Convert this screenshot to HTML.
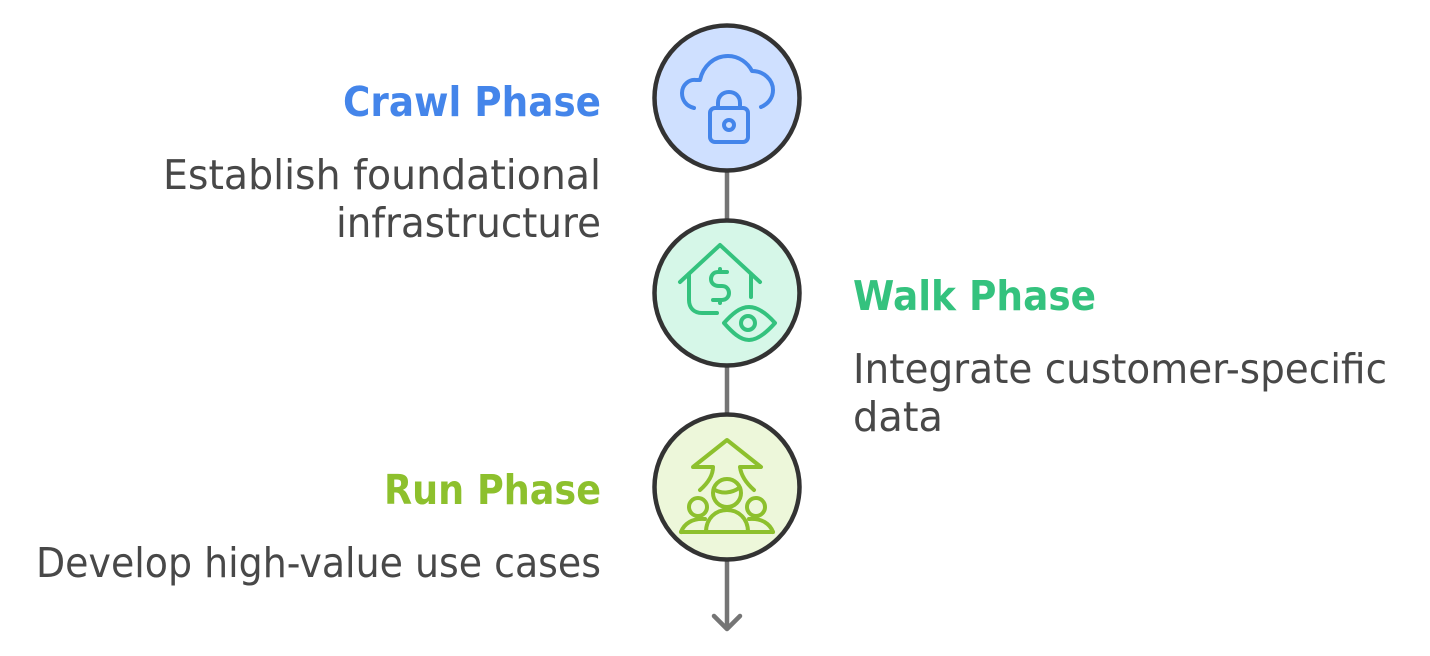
<!DOCTYPE html>
<html><head><meta charset="utf-8"><style>
html,body{margin:0;padding:0;background:#fff;width:1430px;height:656px;overflow:hidden}
svg{display:block}
text{font-family:"DejaVu Sans","Liberation Sans",sans-serif}
.t{font-size:41px;fill:#484848}
.h{font-size:41px;font-weight:bold}
.i{fill:none;stroke-width:4;stroke-linecap:round;stroke-linejoin:round}
</style></head><body>
<svg width="1430" height="656" viewBox="0 0 1430 656">
<path d="M727 170V222M727 365V416M727 558V628" stroke="#757575" stroke-width="4.5" fill="none"/>
<path d="M714 616L727 629L740 616" stroke="#757575" stroke-width="4.5" fill="none" stroke-linecap="round" stroke-linejoin="round"/>
<circle cx="727" cy="98" r="72.5" fill="#cfe0ff" stroke="#333" stroke-width="4.5"/>
<circle cx="727" cy="293" r="72.5" fill="#d6f7e8" stroke="#333" stroke-width="4.5"/>
<circle cx="727" cy="487" r="72.5" fill="#edf7da" stroke="#333" stroke-width="4.5"/>

<g class="i" stroke="#4485ea">
<path d="M694 108C686 106 682 100 682 93C682 85 689 79 696 80L700 80C703 66 714 56 728 56C739 56 748 63 752 71C764 71 773 80 773 90C773 98 768 104 761 107"/>
<rect x="710" y="108" width="38" height="34" rx="5"/>
<path d="M718 108V103C718 96 723 92 729 92C735 92 740 96 740 103V108"/>
<circle cx="729" cy="125" r="5"/>
</g>

<g class="i" stroke="#34c27e">
<path d="M680 282L720 245L760 282"/>
<path d="M689 274V300C689 308 694 313 702 313H717"/>
<path d="M751 274V297"/>
<path d="M727 272H718C713 272 711 276 711 279C711 283 714 286 719 286H722C727 286 729 290 729 293C729 297 726 300 722 300H713"/>
<path d="M720 269V272M720 300V303"/>
<path d="M724 323C732 314 740 307 749 307C758 307 767 314 775 323C767 332 758 340 749 340C740 340 732 332 724 323Z"/>
<circle cx="748" cy="323" r="7"/>
</g>

<g class="i" stroke="#8dc02d">
<path d="M700 490C708 483 713 475 713 467H693L727 440L761 467H740C741 475 746 483 754 490"/>
<circle cx="727" cy="493" r="14"/>
<path d="M715 490C722 494 732 493 739 488"/>
<circle cx="698" cy="507" r="9"/>
<circle cx="756" cy="507" r="9"/>
<path d="M681 532H773"/>
<path d="M706 532C706 518 716 510 727 510C738 510 748 518 748 532"/>
<path d="M681 532C684 524 692 518 705 519M773 532C770 524 762 518 749 519"/>
</g>

<text class="h" fill="#4485ea" x="343" y="116" textLength="258" lengthAdjust="spacingAndGlyphs">Crawl Phase</text>
<text class="t" x="163" y="189" textLength="438" lengthAdjust="spacingAndGlyphs">Establish foundational</text>
<text class="t" x="336" y="237" textLength="265" lengthAdjust="spacingAndGlyphs">infrastructure</text>
<text class="h" fill="#34c27e" x="853" y="310" textLength="243" lengthAdjust="spacingAndGlyphs">Walk Phase</text>
<text class="t" x="853" y="383" textLength="534" lengthAdjust="spacingAndGlyphs">Integrate customer-specific</text>
<text class="t" x="853" y="431" textLength="90" lengthAdjust="spacingAndGlyphs">data</text>
<text class="h" fill="#8dc02d" x="384" y="504" textLength="217" lengthAdjust="spacingAndGlyphs">Run Phase</text>
<text class="t" x="36" y="577" textLength="565" lengthAdjust="spacingAndGlyphs">Develop high-value use cases</text>
</svg>
</body></html>
